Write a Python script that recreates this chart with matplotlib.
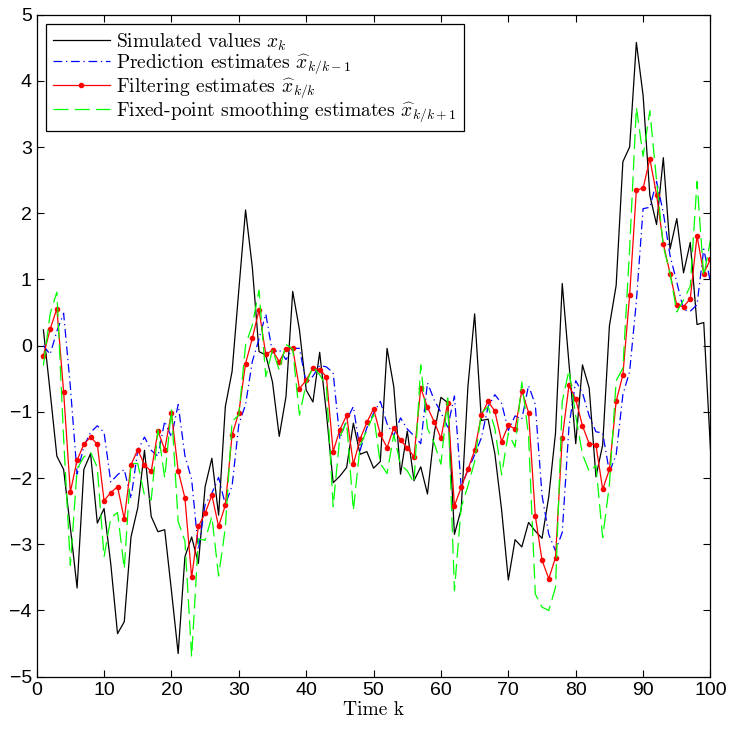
import numpy as np
import matplotlib
matplotlib.use("Agg")
import matplotlib.pyplot as plt

k = np.arange(1, 101)

simulated = [0.24, -0.70, -1.67, -1.87, -2.75, -3.66, -1.87, -1.63, -2.68, -2.46,
             -3.30, -4.35, -4.17, -2.89, -2.45, -1.58, -2.58, -2.81, -2.78, -3.70,
             -4.65, -3.19, -2.89, -3.29, -2.13, -1.70, -2.56, -0.92, -0.39, 0.84,
             2.05, 1.19, -0.09, -0.14, -0.55, -1.37, -0.77, 0.82, 0.24, -0.67,
             -0.85, -0.10, -1.02, -2.07, -1.97, -1.84, -1.17, -1.64, -1.60, -1.85,
             -1.75, -0.04, -0.62, -1.94, -1.29, -2.04, -1.83, -2.24, -1.32, -0.78,
             -0.86, -2.85, -2.47, -0.62, 0.48, -1.13, -1.11, -1.63, -2.48, -3.54,
             -2.93, -3.04, -2.67, -2.80, -2.91, -2.28, -1.32, 0.94, -0.27, -1.48,
             -0.29, -0.64, -1.98, -1.50, 0.30, 0.91, 2.78, 3.00, 4.58, 3.78,
             2.27, 1.83, 2.84, 1.46, 1.92, 1.10, 1.56, 0.32, 0.35, -1.57]

prediction = [0.00, -0.13, 0.22, 0.49, -0.62, -1.94, -1.52, -1.31, -1.21, -1.31,
              -2.06, -1.95, -1.87, -2.31, -1.58, -1.38, -1.58, -1.67, -1.14, -1.38,
              -0.89, -1.66, -2.02, -3.08, -2.40, -2.23, -1.99, -2.40, -2.12, -1.19,
              -0.89, -0.24, 0.10, 0.48, -0.11, -0.06, -0.21, -0.04, -0.04, -0.57,
              -0.46, -0.30, -0.32, -0.41, -1.41, -1.12, -0.92, -1.58, -1.24, -1.02,
              -0.84, -1.18, -1.36, -1.09, -1.26, -1.36, -1.48, -0.56, -0.82, -1.01,
              -1.23, -0.76, -2.13, -1.88, -1.65, -1.39, -0.92, -0.74, -0.87, -1.28,
              -1.06, -1.11, -0.60, -0.89, -2.26, -2.85, -3.10, -2.82, -1.22, -0.53,
              -0.71, -1.06, -1.30, -1.32, -1.91, -1.65, -0.74, -0.39, 0.67, 2.07,
              2.09, 2.48, 2.01, 1.36, 0.96, 0.54, 0.52, 0.62, 1.46, 0.96]

filtering = [-0.15, 0.25, 0.56, -0.70, -2.21, -1.73, -1.49, -1.38, -1.49, -2.34,
             -2.22, -2.13, -2.62, -1.80, -1.57, -1.80, -1.90, -1.29, -1.57, -1.01,
             -1.89, -2.30, -3.50, -2.73, -2.53, -2.26, -2.73, -2.41, -1.35, -1.01,
             -0.27, 0.11, 0.54, -0.13, -0.07, -0.24, -0.05, -0.04, -0.65, -0.52,
             -0.34, -0.36, -0.47, -1.60, -1.27, -1.05, -1.79, -1.41, -1.16, -0.95,
             -1.34, -1.54, -1.24, -1.43, -1.54, -1.68, -0.64, -0.93, -1.15, -1.40,
             -0.86, -2.42, -2.14, -1.87, -1.58, -1.05, -0.84, -0.99, -1.45, -1.20,
             -1.26, -0.68, -1.01, -2.57, -3.24, -3.52, -3.20, -1.39, -0.60, -0.81,
             -1.21, -1.48, -1.50, -2.17, -1.87, -0.84, -0.44, 0.76, 2.35, 2.38,
             2.82, 2.28, 1.54, 1.09, 0.61, 0.59, 0.71, 1.66, 1.09, 1.31]

smoothing = [-0.30, 0.48, 0.81, -1.40, -3.32, -1.86, -1.68, -1.61, -1.84, -3.19,
             -2.60, -2.52, -3.37, -1.78, -1.78, -2.26, -2.33, -1.27, -2.00, -0.96,
             -2.66, -2.95, -4.70, -2.92, -2.94, -2.58, -3.48, -2.75, -1.14, -1.05,
             0.01, 0.31, 0.84, -0.47, -0.06, -0.37, 0.02, -0.05, -1.05, -0.57,
             -0.32, -0.44, -0.61, -2.43, -1.37, -1.15, -2.49, -1.51, -1.28, -1.04,
             -1.78, -1.93, -1.34, -1.80, -1.89, -2.07, -0.29, -1.25, -1.47, -1.79,
             -0.79, -3.70, -2.44, -2.12, -1.75, -1.02, -0.92, -1.25, -1.95, -1.32,
             -1.53, -0.55, -1.36, -3.75, -3.95, -4.00, -3.65, -0.84, -0.37, -1.06,
             -1.64, -1.90, -1.81, -2.90, -2.10, -0.53, -0.34, 1.46, 3.60, 2.86,
             3.55, 2.49, 1.50, 1.09, 0.51, 0.69, 0.90, 2.48, 1.05, 1.60]

plt.rcParams['mathtext.fontset'] = 'cm'

fig = plt.figure(figsize=(7.29, 7.31), dpi=100)
ax = fig.add_axes([0.0503, 0.0743, 0.9243, 0.9056])

ax.plot(k, simulated, color='black', lw=0.9, label=r'Simulated values $x_k$')
ax.plot(k, prediction, color='blue', lw=0.9, linestyle=(0, (7, 3, 1, 3)),
        label=r'Prediction estimates $\widehat{x}_{k/k-1}$')
ax.plot(k, filtering, color='red', lw=0.9, marker='o', markersize=3,
        label=r'Filtering estimates $\widehat{x}_{k/k}$')
ax.plot(k, smoothing, color='#00ff00', lw=0.9, linestyle=(0, (12, 5)),
        label=r'Fixed-point smoothing estimates $\widehat{x}_{k/k+1}$')

ax.set_xlim(0, 100)
ax.set_ylim(-5, 5)
ax.set_xticks(np.arange(0, 101, 10))
ax.set_yticks(np.arange(-5, 6, 1))
ax.tick_params(direction='in', top=True, right=True, length=5, width=0.8,
               labelsize=14)
for lab in ax.get_xticklabels() + ax.get_yticklabels():
    lab.set_family('Liberation Sans')
for s in ax.spines.values():
    s.set_linewidth(0.9)

ax.set_xlabel('Time k', family='cmr10', fontsize=14, labelpad=2)

leg = ax.legend(loc='upper left', prop={'family': 'cmr10', 'size': 14},
                numpoints=1, handlelength=2.9, borderaxespad=0.5,
                labelspacing=0.0, borderpad=0.35, handletextpad=0.35,
                fancybox=False, framealpha=1, edgecolor='black')
leg.get_frame().set_linewidth(0.9)

fig.savefig('out.png', dpi=100)
